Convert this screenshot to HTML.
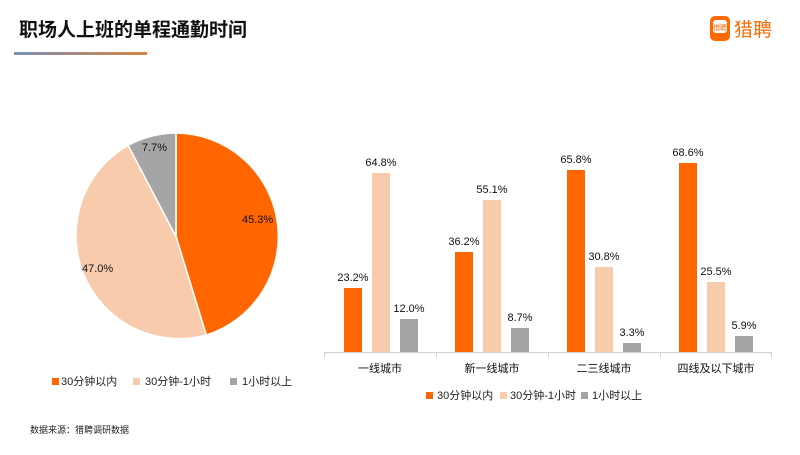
<!DOCTYPE html>
<html><head><meta charset="utf-8"><style>
body{margin:0;background:#fff;}
svg text{font-family:"Liberation Sans","Noto Sans CJK SC",sans-serif;}
</style></head><body>
<svg width="800" height="450" viewBox="0 0 800 450" xmlns="http://www.w3.org/2000/svg">
<defs><linearGradient id="g" x1="0" x2="1"><stop offset="0" stop-color="#7a93b8"/><stop offset="1" stop-color="#d9803f"/></linearGradient></defs>
<rect width="800" height="450" fill="#fff"/>
<text x="19" y="36" font-size="19" font-weight="bold" fill="#111">职场人上班的单程通勤时间</text>
<rect x="14" y="52" width="133" height="3" fill="url(#g)"/>
<rect x="710" y="16" width="20" height="25" rx="5" fill="#ff6a00"/>
<rect x="713" y="20" width="14" height="13" rx="3" fill="#fff"/>
<text x="720" y="30" font-size="7" fill="#ff6a00" text-anchor="middle">猎聘</text>
<text x="734" y="36" font-size="19" fill="#ff6a00">猎聘</text>
<!-- pie -->
<g stroke="#fff" stroke-width="1.5">
<path d="M176,236.5 L176,133 A103.5,103.5 0 0 1 206.3,335.1 Z" fill="#ff6600"/>
<path d="M176,236.5 L206.3,335.1 A103.5,103.5 0 0 1 128.1,145.3 Z" fill="#f7cbac"/>
<path d="M176,236.5 L128.1,145.3 A103.5,103.5 0 0 1 176,133 Z" fill="#a5a5a5"/>
</g>
<g font-size="11" fill="#111">
<text x="242" y="223">45.3%</text>
<text x="82" y="272">47.0%</text>
<text x="142" y="151">7.7%</text>
</g>
<g font-size="11" fill="#222">
<rect x="52" y="378" width="7" height="7" fill="#ff6600"/><text x="61" y="385">30分钟以内</text>
<rect x="133" y="378" width="7" height="7" fill="#f7cbac"/><text x="145" y="385">30分钟-1小时</text>
<rect x="230" y="378" width="7" height="7" fill="#a5a5a5"/><text x="242" y="385">1小时以上</text>
</g>
<text x="30" y="433" font-size="9" fill="#222">数据来源：猎聘调研数据</text>
<!-- bars -->
<line x1="324" y1="352.5" x2="771" y2="352.5" stroke="#d0d0d0"/>
<g stroke="#d0d0d0"><line x1="324.5" y1="352" x2="324.5" y2="357"/><line x1="436.5" y1="352" x2="436.5" y2="357"/><line x1="548.5" y1="352" x2="548.5" y2="357"/><line x1="660.5" y1="352" x2="660.5" y2="357"/><line x1="771.5" y1="352" x2="771.5" y2="357"/></g>
<g font-size="11" fill="#111" text-anchor="middle">
<rect x="344" y="288" width="18" height="64" fill="#ff6600"/><text x="353" y="281">23.2%</text>
<rect x="372" y="173" width="18" height="179" fill="#f7cbac"/><text x="381" y="166">64.8%</text>
<rect x="400" y="319" width="18" height="33" fill="#a5a5a5"/><text x="409" y="312">12.0%</text>
<rect x="455" y="252" width="18" height="100" fill="#ff6600"/><text x="464" y="245">36.2%</text>
<rect x="483" y="200" width="18" height="152" fill="#f7cbac"/><text x="492" y="193">55.1%</text>
<rect x="511" y="328" width="18" height="24" fill="#a5a5a5"/><text x="520" y="321">8.7%</text>
<rect x="567" y="170" width="18" height="182" fill="#ff6600"/><text x="576" y="163">65.8%</text>
<rect x="595" y="267" width="18" height="85" fill="#f7cbac"/><text x="604" y="260">30.8%</text>
<rect x="623" y="343" width="18" height="9" fill="#a5a5a5"/><text x="632" y="336">3.3%</text>
<rect x="679" y="163" width="18" height="189" fill="#ff6600"/><text x="688" y="156">68.6%</text>
<rect x="707" y="282" width="18" height="70" fill="#f7cbac"/><text x="716" y="275">25.5%</text>
<rect x="735" y="336" width="18" height="16" fill="#a5a5a5"/><text x="744" y="329">5.9%</text>
<text x="380" y="372">一线城市</text>
<text x="492" y="372">新一线城市</text>
<text x="604" y="372">二三线城市</text>
<text x="716" y="372">四线及以下城市</text>
</g>
<g font-size="11" fill="#222">
<rect x="426" y="392" width="7" height="7" fill="#ff6600"/><text x="437" y="399">30分钟以内</text>
<rect x="500" y="392" width="7" height="7" fill="#f7cbac"/><text x="510" y="399">30分钟-1小时</text>
<rect x="581" y="392" width="7" height="7" fill="#a5a5a5"/><text x="592" y="399">1小时以上</text>
</g>
</svg>
</body></html>
